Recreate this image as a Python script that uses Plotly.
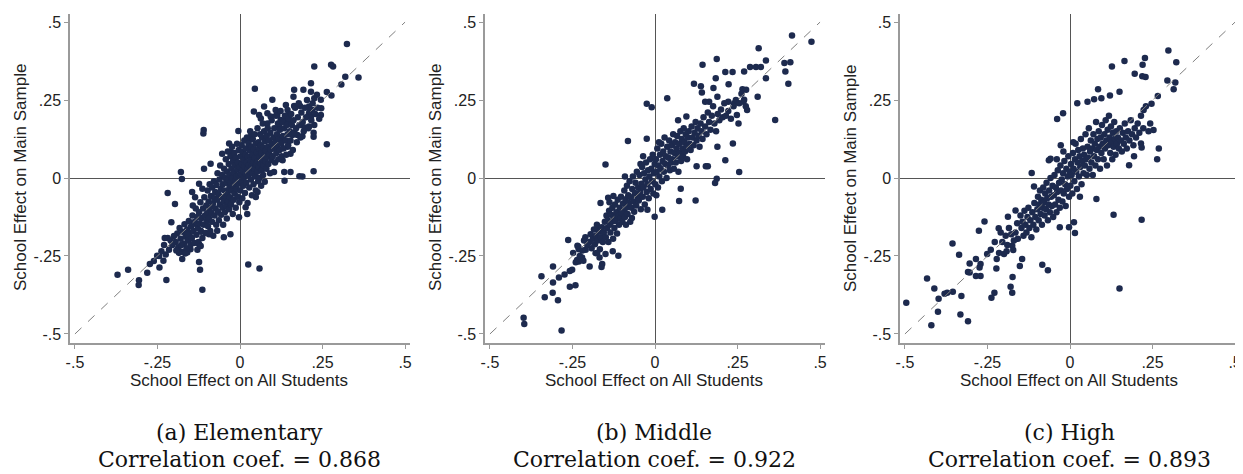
import plotly.graph_objects as go

# ---------------- data ----------------
tick_vals = [-0.5, -0.25, 0, 0.25, 0.5]
tick_text_x = ["-.5", "-.25", "0", ".25", ".5"]
tick_text_y = ["-.5", "-.25", "0", ".25", ".5"]

panel_titles = ["(a) Elementary", "(b) Middle", "(c) High"]
correlations = ["0.868", "0.922", "0.893"]

elementary_pts = [
    (0.324,0.430),(0.359,0.322),(0.276,0.363),(0.282,0.358),(0.225,0.358),(0.319,0.325),(0.307,0.300),
    (0.277,0.265),(0.263,0.276),(0.246,0.224),(0.263,0.108),(0.223,0.022),(0.189,0.005),(0.180,0.006),
    (0.135,-0.009),(0.045,0.286),(-0.005,0.151),(-0.110,0.154),(-0.111,0.143),(-0.179,0.019),(-0.176,-0.003),
    (-0.219,-0.048),(-0.197,-0.083),(0.025,-0.277),(0.059,-0.290),(-0.114,-0.358),(-0.121,-0.294),
    (-0.124,-0.269),(-0.175,-0.260),(-0.223,-0.327),(-0.244,-0.287),(-0.371,-0.310),(-0.339,-0.294),
    (-0.306,-0.328),(-0.307,-0.343),(-0.281,-0.304),(-0.273,-0.276),(-0.261,-0.266),(-0.251,-0.249),
    (-0.228,-0.192),(-0.219,-0.192),(-0.208,-0.142),
    (0.164,0.283),(0.192,0.283),(0.215,0.277),(0.225,0.256),(0.233,0.267),(0.245,0.251),(0.215,0.304),
    (0.162,0.261),(0.139,0.234),(0.164,0.231),(0.182,0.231),(0.209,0.229),(0.219,0.218),(0.245,0.202),
    (0.209,0.208),(0.215,0.197),(0.225,0.170),(0.209,0.165),(0.184,0.170),(0.196,0.162),(0.223,0.145),
    (0.223,0.132),(0.189,0.134),(0.159,0.138),(0.174,0.138),(0.144,0.218),(0.149,0.202),(0.139,0.186),
    (0.123,0.186),(0.153,0.181),(0.118,0.165),(0.134,0.122),(0.144,0.100),(0.153,0.078),(0.129,0.057),
    (0.098,0.251),(0.073,0.229),(0.042,0.213),(0.058,0.202),(0.083,0.208),(0.093,0.197),(0.113,0.202),
    (0.108,0.218),(0.063,0.191),(0.083,0.175),(0.032,0.132),(0.028,0.122),(0.103,0.019),(0.153,0.019),
    (0.134,0.019),(0.053,-0.045),(0.048,-0.061),(0.017,-0.094),(0.022,-0.115),(-0.003,-0.126),
    (-0.029,-0.180),(-0.049,-0.190),(-0.069,-0.169),(-0.094,-0.180),(-0.124,-0.212),(-0.150,-0.228),
    (-0.160,-0.239),(-0.119,-0.169),(-0.140,-0.147),(-0.145,-0.045),(-0.124,-0.018),(-0.114,-0.034),
    (-0.089,0.046),(-0.109,0.030),(-0.033,0.111),(-0.054,0.078),(-0.028,0.084),
    (-0.195,-0.205),(-0.190,-0.178),(-0.187,-0.222),(-0.183,-0.160),(-0.180,-0.195),(-0.176,-0.236),
    (-0.173,-0.172),(-0.170,-0.210),(-0.168,-0.148),(-0.165,-0.188),(-0.162,-0.225),(-0.160,-0.165),
    (-0.157,-0.200),(-0.155,-0.138),(-0.152,-0.176),(-0.150,-0.214),(-0.185,-0.240),(-0.200,-0.186),
    (-0.205,-0.215),(-0.193,-0.232),(-0.178,-0.215),(-0.166,-0.242),(-0.158,-0.182),
    (-0.148,-0.155),(-0.146,-0.192),(-0.144,-0.120),(-0.141,-0.170),(-0.139,-0.208),(-0.137,-0.140),
    (-0.134,-0.098),(-0.132,-0.182),(-0.130,-0.125),(-0.128,-0.160),(-0.126,-0.205),(-0.124,-0.110),
    (-0.122,-0.145),(-0.120,-0.078),(-0.118,-0.172),(-0.116,-0.128),(-0.114,-0.192),(-0.112,-0.098),
    (-0.110,-0.150),(-0.108,-0.062),(-0.106,-0.120),(-0.104,-0.176),(-0.102,-0.088),(-0.101,-0.138),
    (-0.143,-0.088),(-0.136,-0.062),(-0.129,-0.230),(-0.119,-0.218),
    (-0.099,-0.110),(-0.098,-0.040),(-0.097,-0.155),(-0.095,-0.075),(-0.094,-0.128),(-0.092,-0.020),
    (-0.091,-0.095),(-0.090,-0.170),(-0.088,-0.058),(-0.087,-0.112),(-0.085,-0.140),(-0.084,-0.030),
    (-0.082,-0.082),(-0.081,-0.185),(-0.079,-0.010),(-0.078,-0.065),(-0.077,-0.120),(-0.075,-0.045),
    (-0.074,-0.098),(-0.072,-0.150),(-0.071,-0.022),(-0.069,-0.070),(-0.068,0.015),(-0.067,-0.108),
    (-0.065,-0.052),(-0.064,-0.135),(-0.062,-0.005),(-0.061,-0.085),(-0.060,0.040),(-0.058,-0.035),
    (-0.057,-0.118),(-0.055,-0.062),(-0.054,0.010),(-0.053,-0.095),(-0.052,-0.020),(-0.051,-0.150),
    (-0.049,-0.075),(-0.048,0.030),(-0.047,-0.040),(-0.046,-0.110),(-0.045,0.000),(-0.044,-0.058),
    (-0.043,0.060),(-0.042,-0.090),(-0.041,-0.015),(-0.040,-0.130),(-0.039,0.020),(-0.038,-0.048),
    (-0.037,0.085),(-0.036,-0.075),(-0.035,-0.005),(-0.034,0.045),(-0.033,-0.100),(-0.032,-0.030),
    (-0.031,0.010),(-0.030,-0.062),(-0.029,0.070),(-0.028,-0.015),(-0.027,-0.085),(-0.026,0.030),
    (-0.025,-0.040),(-0.024,0.100),(-0.023,0.000),(-0.022,-0.115),(-0.021,0.055),(-0.020,-0.025),
    (-0.019,-0.070),(-0.018,0.018),(-0.017,0.080),(-0.016,-0.050),(-0.015,0.040),(-0.014,-0.008),
    (-0.013,-0.095),(-0.012,0.065),(-0.011,0.005),(-0.010,-0.035),(-0.009,0.110),(-0.008,0.028),
    (-0.007,-0.060),(-0.006,0.050),(-0.005,-0.018),(-0.004,0.090),(-0.003,0.010),(-0.002,-0.078),
    (-0.001,0.035),
    (0.001,-0.040),(0.002,0.070),(0.003,0.012),(0.004,-0.010),(0.005,0.105),(0.006,0.045),(0.007,-0.065),
    (0.008,0.025),(0.009,0.085),(0.010,-0.025),(0.011,0.060),(0.012,0.002),(0.013,0.120),(0.014,0.038),
    (0.015,-0.048),(0.016,0.075),(0.017,0.015),(0.018,0.095),(0.019,-0.015),(0.020,0.050),(0.021,0.130),
    (0.022,0.028),(0.023,-0.080),(0.024,0.068),(0.025,0.008),(0.026,0.110),(0.027,0.042),(0.028,-0.030),
    (0.029,0.088),(0.030,0.020),(0.031,0.150),(0.032,0.058),(0.033,-0.005),(0.034,0.100),(0.035,0.035),
    (0.036,-0.055),(0.037,0.075),(0.038,0.015),(0.039,0.125),(0.040,0.050),(0.041,-0.020),(0.042,0.092),
    (0.043,0.030),(0.044,0.140),(0.045,0.065),(0.046,0.005),(0.047,0.110),(0.048,-0.040),(0.049,0.045),
    (0.051,0.082),(0.052,0.020),(0.053,0.160),(0.054,0.055),(0.055,-0.010),(0.056,0.115),(0.057,0.035),
    (0.058,0.095),(0.059,0.000),(0.060,0.070),(0.061,0.140),(0.062,0.048),(0.063,0.105),(0.064,-0.025),
    (0.065,0.080),(0.066,0.025),(0.067,0.130),(0.068,0.060),(0.069,0.175),(0.070,0.010),(0.071,0.098),
    (0.072,0.042),(0.073,0.150),(0.074,0.072),(0.075,-0.012),(0.076,0.118),(0.077,0.055),(0.078,0.088),
    (0.080,0.030),(0.081,0.135),(0.082,0.068),(0.084,0.160),(0.085,0.100),(0.086,0.045),(0.088,0.120),
    (0.089,0.078),(0.091,0.015),(0.092,0.145),(0.093,0.092),(0.095,0.058),(0.096,0.185),(0.097,0.110),
    (0.099,0.070),
    (0.101,0.130),(0.103,0.095),(0.104,0.160),(0.106,0.050),(0.107,0.115),(0.109,0.200),(0.110,0.080),
    (0.112,0.140),(0.113,0.100),(0.115,0.175),(0.116,0.060),(0.118,0.125),(0.120,0.090),(0.121,0.155),
    (0.123,0.215),(0.125,0.110),(0.126,0.070),(0.128,0.180),(0.130,0.135),(0.132,0.095),(0.134,0.160),
    (0.136,0.200),(0.138,0.120),(0.140,0.075),(0.142,0.170),(0.144,0.140),(0.146,0.105),(0.148,0.190),
    (0.151,0.150),(0.153,0.120),(0.155,0.205),(0.157,0.170),(0.160,0.090),(0.162,0.185),(0.165,0.145),
    (0.167,0.225),(0.170,0.160),(0.172,0.115),(0.175,0.195),(0.178,0.240),(0.180,0.170),(0.183,0.130),
    (0.186,0.210),(0.190,0.180),(0.193,0.150),(0.197,0.225),(0.200,0.195),
    (0.203,0.250),(0.207,0.160),(0.212,0.215),(0.216,0.185),(0.220,0.240),(0.228,0.205),(0.235,0.225),
    (0.240,0.190),
    (-0.245,-0.250),(-0.238,-0.235),(-0.230,-0.215),(-0.225,-0.245),(-0.215,-0.230),(-0.210,-0.200),
    (-0.232,-0.265),
]

middle_pts = [
    (0.415,0.457),(0.474,0.437),(0.314,0.416),(0.364,0.186),(0.404,0.302),(0.395,0.342),(0.410,0.371),
    (0.392,0.369),(0.336,0.377),(0.336,0.320),(0.311,0.261),(0.288,0.356),(0.306,0.356),(0.321,0.356),
    (0.270,0.342),(0.235,0.340),(0.213,0.340),(0.187,0.382),(0.144,0.363),(0.118,0.302),(0.139,0.294),
    (0.142,0.274),(0.223,0.301),(0.265,0.285),(0.276,0.283),(0.270,0.251),(0.279,0.218),(0.253,0.175),
    (0.248,0.202),(0.222,0.245),(0.240,0.240),(0.189,0.261),(0.184,0.320),(0.177,0.289),(0.164,0.245),
    (0.152,0.245),(0.037,0.256),(-0.025,0.238),(-0.010,0.227),(0.070,0.185),(0.095,0.197),(-0.082,0.119),
    (-0.025,0.126),(-0.150,0.043),(-0.091,0.005),(0.213,0.057),(0.255,0.019),(0.187,-0.002),(0.182,-0.016),
    (0.123,-0.072),(0.073,-0.074),(0.236,0.111),(0.189,0.100),(0.154,0.038),(0.160,0.038),(0.126,0.038),
    (0.078,-0.034),(0.022,-0.102),(-0.001,-0.124),(-0.023,-0.102),
    (-0.398,-0.448),(-0.396,-0.468),(-0.283,-0.489),(-0.344,-0.315),(-0.334,-0.382),(-0.310,-0.368),
    (-0.294,-0.392),(-0.309,-0.335),(-0.291,-0.319),(-0.309,-0.284),(-0.274,-0.309),(-0.258,-0.349),
    (-0.241,-0.344),(-0.258,-0.298),(-0.251,-0.294),(-0.263,-0.199),(-0.235,-0.217),(-0.231,-0.228),
    (-0.236,-0.263),(-0.231,-0.268),(-0.221,-0.255),(-0.211,-0.190),(-0.198,-0.284),(-0.180,-0.241),
    (-0.160,-0.276),(-0.162,-0.285),(-0.150,-0.244),(-0.128,-0.235),(-0.111,-0.249),(-0.165,-0.080),
    (-0.142,-0.063),(-0.172,-0.158),(-0.185,-0.188),
    (-0.198,-0.205),(-0.195,-0.180),(-0.192,-0.225),(-0.188,-0.195),(-0.185,-0.165),(-0.182,-0.212),
    (-0.179,-0.185),(-0.176,-0.150),(-0.173,-0.200),(-0.170,-0.172),(-0.167,-0.228),(-0.164,-0.190),
    (-0.161,-0.158),(-0.158,-0.205),(-0.155,-0.175),(-0.152,-0.140),(-0.205,-0.215),(-0.210,-0.230),
    (-0.215,-0.200),(-0.175,-0.240),(-0.168,-0.255),
    (-0.149,-0.190),(-0.147,-0.120),(-0.145,-0.160),(-0.143,-0.135),(-0.141,-0.205),(-0.139,-0.105),
    (-0.137,-0.150),(-0.135,-0.175),(-0.133,-0.118),(-0.131,-0.140),(-0.129,-0.095),(-0.127,-0.195),
    (-0.125,-0.125),(-0.123,-0.160),(-0.121,-0.085),(-0.119,-0.138),(-0.117,-0.110),(-0.115,-0.178),
    (-0.113,-0.070),(-0.111,-0.122),(-0.109,-0.150),(-0.107,-0.095),(-0.105,-0.130),(-0.103,-0.060),
    (-0.101,-0.112),(-0.138,-0.078),(-0.126,-0.058),
    (-0.099,-0.140),(-0.097,-0.082),(-0.095,-0.105),(-0.093,-0.040),(-0.091,-0.125),(-0.089,-0.068),
    (-0.087,-0.095),(-0.085,-0.025),(-0.083,-0.115),(-0.081,-0.055),(-0.079,-0.080),(-0.077,-0.010),
    (-0.075,-0.140),(-0.073,-0.062),(-0.071,-0.095),(-0.069,-0.035),(-0.067,0.005),(-0.065,-0.075),
    (-0.063,-0.108),(-0.061,-0.048),(-0.059,-0.015),(-0.057,-0.088),(-0.055,0.020),(-0.053,-0.060),
    (-0.051,-0.030),(-0.088,-0.150),(-0.070,-0.128),
    (-0.049,-0.072),(-0.047,0.010),(-0.045,-0.045),(-0.043,-0.100),(-0.041,-0.018),(-0.039,0.035),
    (-0.037,-0.060),(-0.035,-0.030),(-0.033,0.015),(-0.031,-0.085),(-0.029,-0.005),(-0.027,0.050),
    (-0.025,-0.045),(-0.023,-0.020),(-0.021,0.025),(-0.019,-0.065),(-0.017,0.005),(-0.015,0.060),
    (-0.013,-0.035),(-0.011,0.030),(-0.009,-0.010),(-0.007,0.075),(-0.005,-0.050),(-0.003,0.015),
    (-0.001,0.045),(-0.044,0.045),(-0.036,0.070),
    (0.001,-0.020),(0.003,0.060),(0.005,0.020),(0.007,0.095),(0.009,-0.030),(0.011,0.040),(0.013,0.005),
    (0.015,0.075),(0.017,0.030),(0.019,0.110),(0.021,-0.010),(0.023,0.055),(0.025,0.085),(0.027,0.020),
    (0.029,0.130),(0.031,0.045),(0.033,0.070),(0.035,0.000),(0.037,0.100),(0.039,0.040),(0.041,0.065),
    (0.043,0.120),(0.045,0.025),(0.047,0.085),(0.049,0.050),(0.012,0.115),(0.004,-0.055),
    (0.051,0.105),(0.053,0.060),(0.055,0.140),(0.057,0.030),(0.059,0.080),(0.061,0.115),(0.063,0.050),
    (0.065,0.095),(0.067,0.135),(0.069,0.070),(0.071,0.020),(0.073,0.110),(0.075,0.080),(0.077,0.150),
    (0.079,0.055),(0.081,0.125),(0.083,0.095),(0.085,0.070),(0.087,0.160),(0.089,0.115),(0.091,0.085),
    (0.093,0.140),(0.095,0.100),(0.097,0.060),(0.099,0.130),
    (0.102,0.150),(0.105,0.110),(0.108,0.090),(0.111,0.165),(0.114,0.130),(0.117,0.105),(0.120,0.145),
    (0.123,0.180),(0.126,0.120),(0.129,0.160),(0.132,0.135),(0.135,0.100),(0.138,0.175),(0.141,0.150),
    (0.144,0.125),(0.147,0.195),
    (0.152,0.165),(0.156,0.140),(0.160,0.210),(0.164,0.180),(0.168,0.155),(0.172,0.200),(0.176,0.230),
    (0.180,0.175),(0.185,0.150),(0.190,0.205),(0.195,0.185),(0.200,0.220),(0.205,0.195),(0.210,0.240),
    (0.215,0.200),(0.222,0.215),(0.230,0.190),(0.238,0.230),(0.245,0.250),(0.255,0.240),(0.262,0.270),
    (0.268,0.245),(0.275,0.230),
    (-0.248,-0.240),(-0.240,-0.270),(-0.232,-0.220),(-0.228,-0.250),(-0.220,-0.232),(-0.217,-0.265),
]

high_pts = [
    (0.298,0.409),(0.322,0.371),(0.319,0.306),(0.295,0.313),(0.314,0.285),(0.227,0.385),(0.220,0.363),
    (0.219,0.326),(0.229,0.324),(0.196,0.334),(0.165,0.375),(0.127,0.358),(0.085,0.285),(0.095,0.256),
    (0.073,0.253),(0.121,0.265),(0.150,0.277),(0.053,0.245),(0.022,0.240),(-0.021,0.208),(-0.039,0.189),
    (-0.028,0.105),(-0.064,0.057),(-0.059,0.062),(-0.116,0.016),(-0.109,-0.027),(0.266,0.263),
    (0.247,0.238),(0.223,0.218),(0.243,0.175),(0.253,0.154),(0.269,0.095),(0.264,0.060),(0.215,0.111),
    (0.217,0.098),(0.194,0.070),(0.179,0.041),(0.217,-0.134),(0.132,-0.118),(0.150,-0.354),(0.080,-0.067),
    (0.012,-0.142),(0.015,-0.176),(-0.003,-0.158),(-0.031,-0.158),(-0.067,-0.296),(-0.084,-0.278),
    (-0.165,-0.104),(-0.188,-0.124),(-0.216,-0.161),(-0.259,-0.139),(-0.276,-0.169),(-0.356,-0.210),
    (-0.336,-0.246),(-0.285,-0.260),(-0.271,-0.276),(-0.274,-0.287),(-0.304,-0.274),(-0.309,-0.301),
    (-0.304,-0.303),(-0.285,-0.314),(-0.271,-0.314),(-0.251,-0.244),(-0.223,-0.290),(-0.200,-0.244),
    (-0.192,-0.235),(-0.175,-0.217),(-0.172,-0.231),(-0.145,-0.260),(-0.152,-0.282),(-0.174,-0.317),
    (-0.180,-0.349),(-0.175,-0.368),(-0.229,-0.368),(-0.238,-0.384),(-0.329,-0.378),(-0.332,-0.438),
    (-0.309,-0.459),(-0.400,-0.429),(-0.420,-0.472),(-0.496,-0.400),(-0.433,-0.322),(-0.411,-0.354),
    (-0.398,-0.387),(-0.380,-0.371),(-0.372,-0.368),(-0.355,-0.365),
    (-0.150,-0.120),(-0.147,-0.160),(-0.144,-0.140),(-0.141,-0.185),(-0.138,-0.105),(-0.135,-0.150),
    (-0.132,-0.175),(-0.129,-0.125),(-0.126,-0.095),(-0.123,-0.160),(-0.120,-0.135),(-0.117,-0.190),
    (-0.114,-0.110),(-0.111,-0.150),(-0.108,-0.080),(-0.105,-0.125),(-0.102,-0.165),(-0.160,-0.145),
    (-0.165,-0.175),(-0.158,-0.195),(-0.170,-0.200),(-0.178,-0.180),(-0.185,-0.160),(-0.195,-0.185),
    (-0.205,-0.205),(-0.190,-0.215),
    (-0.099,-0.100),(-0.097,-0.060),(-0.095,-0.135),(-0.093,-0.085),(-0.091,-0.040),(-0.089,-0.115),
    (-0.087,-0.070),(-0.085,-0.150),(-0.083,-0.095),(-0.081,-0.030),(-0.079,-0.078),(-0.077,-0.120),
    (-0.075,-0.050),(-0.073,-0.100),(-0.071,-0.015),(-0.069,-0.065),(-0.067,-0.135),(-0.065,-0.085),
    (-0.063,-0.040),(-0.061,-0.110),(-0.059,0.000),(-0.057,-0.060),(-0.055,-0.090),(-0.053,-0.025),
    (-0.051,-0.125),
    (-0.049,-0.055),(-0.047,0.010),(-0.045,-0.085),(-0.043,-0.030),(-0.041,-0.110),(-0.039,-0.045),
    (-0.037,0.025),(-0.035,-0.070),(-0.033,-0.015),(-0.031,-0.095),(-0.029,0.040),(-0.027,-0.040),
    (-0.025,-0.005),(-0.023,-0.075),(-0.021,0.015),(-0.019,-0.050),(-0.017,0.055),(-0.015,-0.020),
    (-0.013,-0.090),(-0.011,0.030),(-0.009,-0.035),(-0.007,0.005),(-0.005,0.070),(-0.003,-0.060),
    (-0.001,0.020),(-0.040,0.060),(-0.020,0.085),
    (0.001,-0.025),(0.003,0.045),(0.005,0.010),(0.007,-0.050),(0.009,0.080),(0.011,0.030),(0.013,-0.010),
    (0.015,0.060),(0.017,0.110),(0.019,0.020),(0.021,-0.035),(0.023,0.050),(0.025,0.090),(0.027,0.005),
    (0.029,0.070),(0.031,0.035),(0.033,0.125),(0.035,-0.020),(0.037,0.055),(0.039,0.095),(0.041,0.015),
    (0.043,0.075),(0.045,0.040),(0.047,0.140),(0.049,0.060),(0.010,0.115),(0.030,-0.060),
    (0.051,0.010),(0.053,0.100),(0.055,0.065),(0.057,0.160),(0.059,0.030),(0.061,0.085),(0.063,0.120),
    (0.065,0.050),(0.067,0.095),(0.069,0.010),(0.071,0.140),(0.073,0.070),(0.075,0.110),(0.077,0.040),
    (0.079,0.180),(0.081,0.090),(0.083,0.125),(0.085,0.060),(0.087,0.150),(0.089,0.100),(0.091,0.030),
    (0.093,0.130),(0.095,0.080),(0.097,0.170),(0.099,0.110),
    (0.102,0.060),(0.104,0.140),(0.106,0.095),(0.108,0.185),(0.110,0.120),(0.112,0.040),(0.114,0.155),
    (0.116,0.105),(0.118,0.200),(0.120,0.130),(0.122,0.080),(0.124,0.165),(0.126,0.115),(0.128,0.060),
    (0.130,0.145),(0.132,0.100),(0.134,0.180),(0.136,0.125),(0.138,0.075),(0.140,0.150),(0.142,0.110),
    (0.145,0.130),(0.148,0.095),
    (0.151,0.160),(0.154,0.120),(0.157,0.085),(0.160,0.145),(0.163,0.110),(0.166,0.175),(0.169,0.130),
    (0.172,0.095),(0.176,0.150),(0.180,0.120),(0.184,0.185),(0.188,0.140),(0.192,0.105),(0.196,0.160),
    (0.200,0.130),(0.205,0.175),
    (0.210,0.145),(0.215,0.200),(0.222,0.160),(0.230,0.230),(0.238,0.150),
    (-0.240,-0.230),(-0.228,-0.205),(-0.215,-0.240),(-0.210,-0.175),(-0.222,-0.260),
]

diag_line = [-0.5, 0.5]
panels = [elementary_pts, middle_pts, high_pts]

# ---------------- layout constants ----------------
# the page body has a default 8px margin, so the figure is placed at (8, 8)
PAGE_W, PAGE_H, OFF = 1243, 474, 8
W, H = PAGE_W - OFF, PAGE_H - OFF


def px_x(p):
    return (p - OFF) / W


def px_y(p):
    return 1 - (p - OFF) / H


x_px = [(70, 410), (485, 825), (900, 1240)]
y_px_top, y_px_bot = 14, 343
MARKER = "#1d2a4e"
AXIS_GREY = "#9a9a9a"
ZERO_GREY = "#555555"
SANS = "Liberation Sans, Arial, sans-serif"
SERIF = "DejaVu Serif, serif"

fig = go.Figure()
annotations = []

for i, pts in enumerate(panels):
    sfx = "" if i == 0 else str(i + 1)
    xs = [p[0] for p in pts]
    ys = [p[1] for p in pts]
    fig.add_trace(go.Scatter(
        x=xs, y=ys, mode="markers", xaxis="x" + sfx, yaxis="y" + sfx,
        marker=dict(size=6.5, color=MARKER, line=dict(width=0)),
        showlegend=False, hoverinfo="skip"))
    fig.add_trace(go.Scatter(
        x=diag_line, y=diag_line, mode="lines", xaxis="x" + sfx, yaxis="y" + sfx,
        line=dict(color="#7f7f7f", width=1, dash="dash"),
        showlegend=False, hoverinfo="skip"))

    x0, x1 = x_px[i]
    dom_x = [px_x(x0), min(px_x(x1), 1.0)]
    dom_y = [px_y(y_px_bot), px_y(y_px_top)]
    common = dict(
        showline=True, linecolor=AXIS_GREY, linewidth=1.5,
        ticks="outside", ticklen=4, tickwidth=1, tickcolor=AXIS_GREY,
        tickvals=tick_vals, showgrid=False, automargin=False,
        zeroline=True, zerolinecolor=ZERO_GREY, zerolinewidth=1,
        tickfont=dict(family=SANS, size=16, color="#222222"),
        fixedrange=True,
    )
    fig.update_layout(**{
        "xaxis" + sfx: dict(common, domain=dom_x, range=[-0.515, 0.515],
                            ticktext=tick_text_x, anchor="y" + sfx),
        "yaxis" + sfx: dict(common, domain=dom_y, range=[-0.529, 0.526],
                            ticktext=tick_text_y, anchor="x" + sfx),
    })

    cx = px_x((x0 + x1) / 2 - 1)
    annotations.append(dict(
        text="School Effect on All Students", x=cx, y=px_y(380),
        xref="paper", yref="paper", showarrow=False, xanchor="center", yanchor="middle",
        font=dict(family=SANS, size=17, color="#222222")))
    annotations.append(dict(
        text="School Effect on Main Sample", x=px_x(x0 - 50), y=px_y(178),
        xref="paper", yref="paper", showarrow=False, xanchor="center", yanchor="middle",
        textangle=-90, font=dict(family=SANS, size=17, color="#222222")))
    annotations.append(dict(
        text=panel_titles[i], x=cx, y=px_y(432),
        xref="paper", yref="paper", showarrow=False, xanchor="center", yanchor="middle",
        font=dict(family=SERIF, size=22, color="#111111")))
    annotations.append(dict(
        text="Correlation coef. = " + correlations[i], x=cx, y=px_y(473),
        xref="paper", yref="paper", showarrow=False, xanchor="center", yanchor="bottom",
        borderpad=0, font=dict(family=SERIF, size=22, color="#111111")))

fig.update_layout(
    width=W, height=H, margin=dict(l=0, r=0, t=0, b=0, autoexpand=False),
    paper_bgcolor="white", plot_bgcolor="white",
    annotations=annotations, showlegend=False,
)

fig.write_html("out.html")
